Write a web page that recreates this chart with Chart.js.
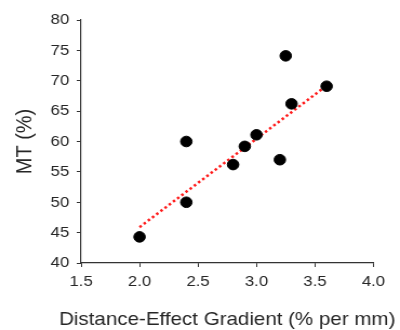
<!DOCTYPE html>
<html>
<head>
<meta charset="utf-8">
<script src="https://cdn.jsdelivr.net/npm/chart.js@4"></script>
<style>
  html, body { margin: 0; padding: 0; background: #fff; overflow: hidden; }
  /* el original esta algo estirado en horizontal: canvas de 370 mostrado a 400 */
  #mtChart { display: block; width: 400px; height: 330px; }
</style>
</head>
<body>
<canvas id="mtChart" width="370" height="330" style="width:400px;height:330px"></canvas>
<script>
// --- datos ---
const gradient = [2.0, 2.4, 2.4, 2.8, 2.9, 3.0, 3.2, 3.25, 3.3, 3.6];
const mt       = [44.3, 50, 60, 56.2, 59.2, 61.1, 57, 74.1, 66.2, 69.1];
// linea de tendencia (extremos)
const trendX = [2.0, 3.6];
const trendY = [45.9, 69.2];

const xTitle = 'Distance-Effect Gradient (% per mm)';
const yTitle = 'MT (%)';

const puntos = gradient.map((g, i) => ({x: g, y: mt[i]}));
const tendencia = trendX.map((g, i) => ({x: g, y: trendY[i]}));

Chart.defaults.font.family = '"Liberation Sans", Arial, sans-serif';
Chart.defaults.color = '#262626';

// titulo del eje x dibujado a mano: el de Chart.js se comprime al ancho del eje
const tituloX = {
  id: 'tituloX',
  afterDraw(chart) {
    const c = chart.ctx;
    const area = chart.chartArea;
    c.save();
    c.font = '19px "Liberation Sans", Arial, sans-serif';
    c.fillStyle = '#262626';
    c.textAlign = 'center';
    c.textBaseline = 'alphabetic';
    c.fillText(xTitle, (area.left + area.right) / 2, 325);
    c.restore();
  }
};

const ctx = document.getElementById('mtChart').getContext('2d');
new Chart(ctx, {
  type: 'scatter',
  data: {
    datasets: [
      {label: 'MT', data: puntos, backgroundColor: '#000', borderColor: '#000', pointRadius: 5.3, pointHoverRadius: 5.3},
      {label: 'trend', data: tendencia, showLine: true, borderColor: '#ff1a1a', borderWidth: 2.5,
       borderDash: [2.4, 2.6], pointRadius: 0, fill: false}
    ]
  },
  options: {
    responsive: false,
    animation: false,
    layout: {padding: {top: 20, right: 24.6, bottom: 0, left: 0}},
    plugins: {legend: {display: false}, tooltip: {enabled: false}},
    scales: {
      x: {
        type: 'linear', min: 1.5, max: 4.0,
        afterFit: s => { s.height = 67; },
        grid: {drawOnChartArea: false, drawTicks: true, tickLength: 4, color: '#333'},
        border: {color: '#333', width: 1.2},
        ticks: {stepSize: 0.5, padding: 5, font: {size: 15.5}, callback: v => v.toFixed(1)},
        title: {display: false}
      },
      y: {
        type: 'linear', min: 40, max: 80,
        afterFit: s => { s.width = 75; },
        grid: {drawOnChartArea: false, drawTicks: true, tickLength: 4, color: '#333'},
        border: {color: '#333', width: 1.2},
        ticks: {stepSize: 5, padding: 7, font: {size: 15.5}},
        title: {display: true, text: yTitle, font: {size: 20}, padding: {top: 11, bottom: 11}}
      }
    }
  },
  plugins: [tituloX]
});
</script>
</body>
</html>
